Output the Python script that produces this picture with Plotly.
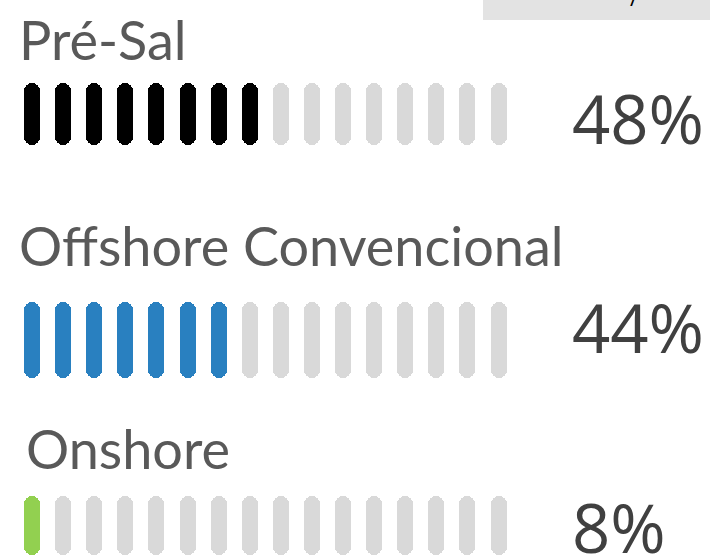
import plotly.graph_objects as go

# data
categories = ["Pré-Sal", "Offshore Convencional", "Onshore"]
shares = [48, 44, 8]
row_colors = ["#000000", "#2980c0", "#92d050"]
n_pills = 16
empty_color = "#d9d9d9"

W, H = 710, 557
# pill rows: (top px, bottom px)
rows_px = [(83, 145), (302, 378), (496, 555)]
label_y = [39.5, 246, 448]
label_x = [17, 17, 24]
pct_y = [118, 326.5, 527]
pitch = 31.1
first_center = 32

fig = go.Figure()
x = list(range(n_pills))
for i, (cat, share, col) in enumerate(zip(categories, shares, row_colors)):
    active = round(share / 100 * n_pills)
    colors = [col if k < active else empty_color for k in x]
    ya = "y" if i == 0 else f"y{i + 1}"
    fig.add_trace(go.Bar(
        x=x, y=[2] * n_pills, base=-1, width=16 / pitch,
        marker=dict(color=colors, cornerradius="50%", line_width=0),
        yaxis=ya, xaxis="x", showlegend=False, hoverinfo="skip",
    ))
    top, bot = rows_px[i]
    fig.layout[f"yaxis{'' if i == 0 else i + 1}"] = dict(
        domain=[1 - bot / H, 1 - top / H], range=[-1, 1], visible=False, fixedrange=True,
        anchor="x",
    )
    fig.add_annotation(
        text=cat, x=label_x[i] / W, y=1 - label_y[i] / H, xref="paper", yref="paper",
        xanchor="left", yanchor="middle", showarrow=False,
        font=dict(family="Lato", size=54, color="#595959"),
    )
    fig.add_annotation(
        text=f"{share}%", x=570 / W, y=1 - pct_y[i] / H, xref="paper", yref="paper",
        xanchor="left", yanchor="middle", showarrow=False,
        font=dict(family="Open Sans", size=67, color="#404040"),
    )

# grey header box, cut off at top
fig.add_shape(type="rect", xref="paper", yref="paper", x0=483 / W, x1=1, y0=1 - 20 / H, y1=1.05,
              fillcolor="#e3e3e3", line_width=0, layer="below")
fig.add_annotation(text="/", x=634 / W, y=1 - 14 / H, xref="paper", yref="paper",
                   xanchor="center", yanchor="bottom", showarrow=False,
                   font=dict(family="Open Sans", size=22, color="#000000"))

fig.update_layout(
    width=W, height=H, margin=dict(l=0, r=0, t=0, b=0),
    paper_bgcolor="white", plot_bgcolor="white", barmode="overlay", bargap=0,
    xaxis=dict(range=[-first_center / pitch, (W - first_center) / pitch], visible=False, fixedrange=True),
)
fig.write_html("out.html", config={"displayModeBar": False},
               post_script="document.body.style.margin='0px';")
